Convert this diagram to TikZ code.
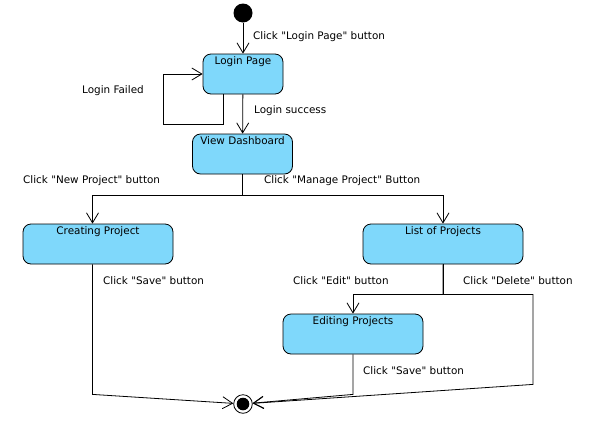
\documentclass[tikz,border=0pt]{standalone}
\usepackage{fontspec}
\setmainfont{DejaVu Sans}[Ligatures=TeXOff]
\usetikzlibrary{arrows.meta}
\definecolor{StateBlue}{HTML}{7FD8FB}

\begin{document}
\begin{tikzpicture}[
				x=1pt, y=-1pt,
				font=\fontsize{10.4}{12}\selectfont,
				state/.style={
					draw=black,
					rectangle,
					rounded corners=8pt,
					fill=StateBlue,
					minimum height=40pt,
					line width=0.8pt
				},
				statename/.style={
					anchor=north,
					inner sep=2.5pt
				},
				startnode/.style={
					circle,
					fill=black,
					inner sep=0pt,
					minimum size=19pt
				},
				endnode/.style={
					circle,
					draw=black,
					line width=0.8pt,
					inner sep=0pt,
					minimum size=18.6pt,
					path picture={\fill[black] (path picture bounding box.center) circle (6.3pt);}
				},
				note/.style={
					anchor=west,
					inner sep=0pt
				},
				flow/.style={
					-{Straight Barb[length=10pt, width=12pt]},
					line width=0.8pt
				}
				]
				\useasboundingbox (0,0) rectangle (589,421);
				\node[startnode] (start) at (243,13) {};
				\node[state, minimum width=80pt, label={[statename]north:Login Page}] (login) at (243,74) {};
				\node[state, minimum width=100pt, label={[statename]north:View Dashboard}] (dash) at (242.5,154) {};
				\node[state, minimum width=150pt, label={[statename]north:Creating Project}] (creating) at (98,244) {};
				\node[state, minimum width=160pt, label={[statename]north:List of Projects}] (list) at (443,244) {};
				\node[state, minimum width=140pt, label={[statename]north:Editing Projects}] (editing) at (353,334) {};
				\node[endnode] (end) at (243,404) {};
				% transition labels
				\node[note] (lblogin) at (253,37) {Click "Login Page" button};
				\node[note] (lbfailed) at (82,91) {Login Failed};
				\node[note] (lbsuccess) at (254,111) {Login success};
				\node[note] (lbnew) at (23,181) {Click "New Project" button};
				\node[note] (lbmanage) at (264,181) {Click "Manage Project" Button};
				\node[note] (lbsave) at (103,281) {Click "Save" button};
				\node[note] (lbedit) at (293,281) {Click "Edit" button};
				\node[note] (lbdelete) at (463,281) {Click "Delete" button};
				\node[note] (lbsavetwo) at (363,371) {Click "Save" button};
				% transitions
				\draw[flow] (start) -- (login);
				\draw[flow] ([xshift=-20pt]login.south) -- ++(0,30) -- ++(-60,0) |- (login.west);
				\draw[flow] (login) -- (dash);
				\draw[flow] (dash.south) -- ++(0,21) -| ([xshift=-5.5pt]creating.north);
				\draw[flow] (dash.south) -- ++(0,21) -| (list.north);
				\draw[flow] ([xshift=-5.5pt]creating.south) -- ++(0,130) -- (end);
				\draw[flow] (list.south) -- ++(0,30) -| (editing.north);
				\draw[flow] (list.south) -- ++(0,30) -- ++(90,0) -- ++(0,90) -- (end);
				\draw[flow] (editing.south) -- ++(0,40) -- (end);
			\end{tikzpicture}
\end{document}
